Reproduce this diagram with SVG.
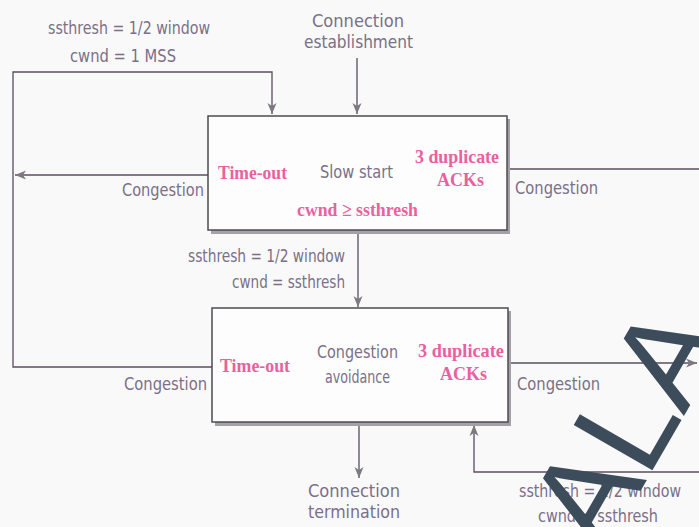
<svg xmlns="http://www.w3.org/2000/svg" width="699" height="527" viewBox="0 0 699 527">
  <style>
    .bg { fill: #f9f9f9; }
    .box { fill: #fdfdfd; stroke: #4e4a52; stroke-width: 1.5; }
    .shadow { fill: #a3a1a6; }
    .wire { fill: none; stroke: #5a4c62; stroke-width: 1.3; }
    .lbl { font-family: "Liberation Sans Narrow", "DejaVu Sans Condensed", "Liberation Sans", sans-serif; font-size: 17px; fill: #7a7088; }
    .evt { font-family: "Liberation Serif", serif; font-weight: bold; font-size: 19px; fill: #e9619f; }
    .mark { font-family: "Liberation Sans", sans-serif; font-size: 132px; fill: #3d4c5b; }
  </style>
  <defs>
    <marker id="arrow" markerUnits="userSpaceOnUse" markerWidth="12" markerHeight="10" refX="11" refY="5" orient="auto">
      <path d="M0,0.5 L11,5 L0,9.5 L3,5 Z" fill="#7c7a80"/>
    </marker>
  </defs>

  <rect class="bg" x="0" y="0" width="699" height="527"/>

  <!-- connectors -->
  <g id="connectors">
    <!-- connection establishment into slow start -->
    <path class="wire" d="M357,58 V114" marker-end="url(#arrow)"/>
    <!-- time-out loop back into slow start -->
    <path class="wire" d="M208,175 H15" marker-end="url(#arrow)"/>
    <path class="wire" d="M212,367 H13 V72 H272 V114" marker-end="url(#arrow)"/>
    <!-- slow start to congestion avoidance -->
    <path class="wire" d="M358,231 V307" marker-end="url(#arrow)"/>
    <!-- 3 duplicate ACKs exits -->
    <path class="wire" d="M507,169 H699"/>
    <path class="wire" d="M508,363 H697" marker-end="url(#arrow)"/>
    <!-- return into congestion avoidance -->
    <path class="wire" d="M699,472 H474 V425" marker-end="url(#arrow)"/>
    <!-- connection termination -->
    <path class="wire" d="M359,424 V478" marker-end="url(#arrow)"/>
  </g>

  <!-- slow start state -->
  <g id="slow-start">
    <rect class="shadow" x="211" y="119" width="299" height="115"/>
    <rect class="box" x="208" y="116" width="299" height="114"/>
    <text class="evt" x="218" y="179" textLength="69" lengthAdjust="spacingAndGlyphs">Time-out</text>
    <text class="lbl" x="320" y="178" textLength="73" lengthAdjust="spacingAndGlyphs">Slow start</text>
    <text class="evt" x="415" y="163" textLength="84" lengthAdjust="spacingAndGlyphs">3 duplicate</text>
    <text class="evt" x="437" y="186" textLength="47" lengthAdjust="spacingAndGlyphs">ACKs</text>
    <text class="evt" x="297" y="216" textLength="121" lengthAdjust="spacingAndGlyphs">cwnd ≥ ssthresh</text>
  </g>

  <!-- congestion avoidance state -->
  <g id="congestion-avoidance">
    <rect class="shadow" x="215" y="311" width="296" height="115"/>
    <rect class="box" x="212" y="308" width="296" height="114"/>
    <text class="evt" x="220" y="372" textLength="70" lengthAdjust="spacingAndGlyphs">Time-out</text>
    <text class="lbl" x="317" y="358" textLength="81" lengthAdjust="spacingAndGlyphs">Congestion</text>
    <text class="lbl" x="325" y="383" textLength="65" lengthAdjust="spacingAndGlyphs">avoidance</text>
    <text class="evt" x="418" y="357" textLength="86" lengthAdjust="spacingAndGlyphs">3 duplicate</text>
    <text class="evt" x="440" y="380" textLength="47" lengthAdjust="spacingAndGlyphs">ACKs</text>
  </g>

  <!-- transition labels -->
  <g id="labels">
    <text class="lbl" x="48" y="34" textLength="162" lengthAdjust="spacingAndGlyphs">ssthresh = 1/2 window</text>
    <text class="lbl" x="70" y="62" textLength="106" lengthAdjust="spacingAndGlyphs">cwnd = 1 MSS</text>
    <text class="lbl" x="312" y="27" textLength="92" lengthAdjust="spacingAndGlyphs">Connection</text>
    <text class="lbl" x="304" y="48" textLength="109" lengthAdjust="spacingAndGlyphs">establishment</text>
    <text class="lbl" x="122" y="196" textLength="82" lengthAdjust="spacingAndGlyphs">Congestion</text>
    <text class="lbl" x="515" y="194" textLength="83" lengthAdjust="spacingAndGlyphs">Congestion</text>
    <text class="lbl" x="188" y="262" textLength="157" lengthAdjust="spacingAndGlyphs">ssthresh = 1/2 window</text>
    <text class="lbl" x="232" y="288" textLength="113" lengthAdjust="spacingAndGlyphs">cwnd = ssthresh</text>
    <text class="lbl" x="124" y="390" textLength="83" lengthAdjust="spacingAndGlyphs">Congestion</text>
    <text class="lbl" x="517" y="390" textLength="83" lengthAdjust="spacingAndGlyphs">Congestion</text>
    <text class="lbl" x="519" y="497" textLength="162" lengthAdjust="spacingAndGlyphs">ssthresh = 1/2 window</text>
    <text class="lbl" x="538" y="522" textLength="120" lengthAdjust="spacingAndGlyphs">cwnd = ssthresh</text>
    <text class="lbl" x="308" y="497" textLength="92" lengthAdjust="spacingAndGlyphs">Connection</text>
    <text class="lbl" x="308" y="518" textLength="92" lengthAdjust="spacingAndGlyphs">termination</text>
  </g>

  <!-- stamp lettering over the lower right corner -->
  <text class="mark" transform="translate(603,556) rotate(-60)">ALA</text>
</svg>
